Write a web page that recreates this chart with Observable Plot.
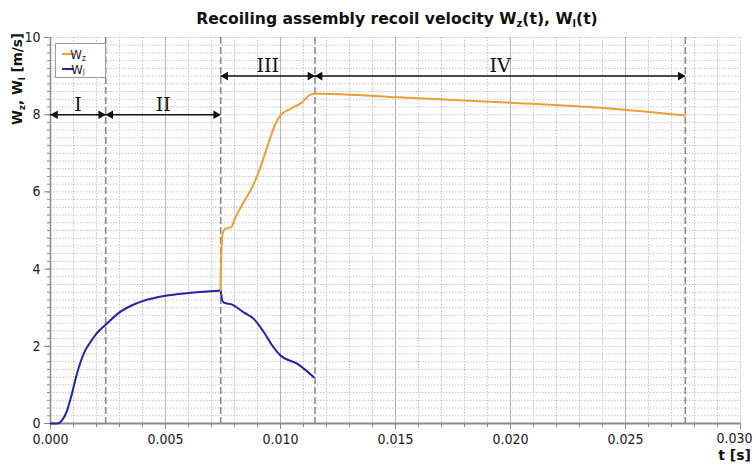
<!DOCTYPE html>
<html>
<head>
<meta charset="utf-8">
<script src="https://cdn.jsdelivr.net/npm/d3@7"></script>
<script src="https://cdn.jsdelivr.net/npm/@observablehq/plot@0.6"></script>
<style>
  html, body { margin: 0; padding: 0; background: white; }
  #chart { width: 756px; height: 465px; overflow: hidden; }
</style>
</head>
<body>
<div id="chart"></div>
<script>
// ---- data ----
const tL = [0, 0.0003, 0.0005, 0.0007, 0.0009, 0.0011, 0.0013, 0.0015, 0.0017, 0.002, 0.0024, 0.003, 0.0035, 0.004, 0.005, 0.006, 0.0068, 0.0073, 0.00739, 0.00746, 0.00754, 0.0079, 0.0084, 0.00884, 0.00927, 0.00964, 0.01, 0.01072, 0.01145];
const wL = [0, 0, 0.08, 0.3, 0.7, 1.18, 1.58, 1.88, 2.08, 2.33, 2.56, 2.88, 3.05, 3.17, 3.31, 3.38, 3.42, 3.44, 3.45, 3.2, 3.13, 3.08, 2.88, 2.71, 2.37, 2.02, 1.76, 1.55, 1.20];

const tZ = [0.00739, 0.00741, 0.00744, 0.0075, 0.0076, 0.00786, 0.00804, 0.0084, 0.00884, 0.00913, 0.00949, 0.00978, 0.01, 0.01043, 0.01094, 0.0113, 0.0115, 0.013, 0.01507, 0.02, 0.02493, 0.0276];
const wZ = [3.45, 4.0, 4.6, 4.96, 5.04, 5.09, 5.34, 5.73, 6.21, 6.64, 7.29, 7.76, 7.98, 8.15, 8.32, 8.52, 8.54, 8.52, 8.45, 8.31, 8.13, 7.98];

const phaseBounds = [0, 0.0024, 0.0074, 0.0115, 0.0276];
const phaseLabels = ["I", "II", "III", "IV"];
const phaseLevels = [8, 8, 9, 9];

const xMajor = [0, 0.005, 0.010, 0.015, 0.020, 0.025, 0.030];
const xTickLabels = ["0.000", "0.005", "0.010", "0.015", "0.020", "0.025", "0.030"];
const yMajor = [0, 2, 4, 6, 8, 10];
const yTickLabels = ["0", "2", "4", "6", "8", "10"];

const xMinor = d3.range(0, 31).map(i => i / 1000);
const yMinor = d3.range(0, 51).map(i => i / 5);

const colorZ = "#E8A03A";
const colorL = "#2222A8";
const font = "'DejaVu Sans Condensed', 'DejaVu Sans', sans-serif";
const fontWide = "'DejaVu Sans', sans-serif";

// ---- derived tables ----
const seriesZ = tZ.map((t, i) => ({t, w: wZ[i]}));
const seriesL = tL.map((t, i) => ({t, w: wL[i]}));
const phases = phaseLabels.map((label, i) => ({
  label, x1: phaseBounds[i], x2: phaseBounds[i + 1], y: phaseLevels[i],
  mid: (phaseBounds[i] + phaseBounds[i + 1]) / 2
}));
const dashedT = phaseBounds.slice(1);
const xLab = xMajor.map((v, i) => ({v, s: xTickLabels[i]}));
const yLab = yMajor.map((v, i) => ({v, s: yTickLabels[i]}));
const lastX = xLab[xLab.length - 1];

const plot = Plot.plot({
  width: 756,
  height: 465,
  marginLeft: 50,
  marginRight: 16,
  marginTop: 37,
  marginBottom: 42,
  style: {fontFamily: font, fontSize: "14px", color: "#1a1a1a", background: "white"},
  x: {type: "linear", domain: [0, 0.03]},
  y: {type: "linear", domain: [0, 10]},
  marks: [
    // grid
    Plot.ruleY(yMinor.filter(v => v > 0), {stroke: "#c4c4c4", strokeDasharray: "1.5,1.5", strokeWidth: 1}),
    Plot.ruleX(xMinor.filter(v => v > 0), {stroke: "#c4c4c4", strokeDasharray: "1.5,1.5", strokeWidth: 1}),
    Plot.ruleX(xMajor.filter(v => v > 0 && v < 0.03), {stroke: "#b4b4b4", strokeWidth: 1}),
    // phase boundaries
    Plot.ruleX(dashedT, {stroke: "#8c8c8c", strokeWidth: 1.6, strokeDasharray: "7,3"}),
    // axes
    Plot.axisX(xMinor, {tickSize: 4, tickFormat: () => "", stroke: "#888", label: null}),
    Plot.axisX(xMajor, {tickSize: 6, tickPadding: 5, stroke: "#888", label: null,
      tickFormat: v => (v === lastX.v ? "" : xLab.find(d => d.v === v).s), fontSize: 14}),
    Plot.text([lastX], {x: "v", text: "s", frameAnchor: "bottom", lineAnchor: "top", dy: 10, dx: -6, fontSize: 14}),
    Plot.axisY(yMinor, {tickSize: 3, tickFormat: () => "", stroke: "#888", label: null}),
    Plot.axisY(yMajor, {tickSize: 6, tickPadding: 4, stroke: "#888", label: null,
      tickFormat: v => yLab.find(d => d.v === v).s, fontSize: 14}),
    Plot.ruleY([0], {stroke: "#8a8a8a", strokeWidth: 2}),
    Plot.ruleX([0], {stroke: "#8a8a8a", strokeWidth: 1.5}),
    // curves
    Plot.line(seriesL, {x: "t", y: "w", stroke: colorL, strokeWidth: 2, curve: "monotone-x"}),
    Plot.line(seriesZ, {x: "t", y: "w", stroke: colorZ, strokeWidth: 2, curve: "monotone-x"}),
    // phase arrows
    Plot.ruleY(phases, {x1: "x1", x2: "x2", y: "y", stroke: "#111", strokeWidth: 1.5}),
    Plot.dot(phases, {x: "x2", y: "y", symbol: "triangle", r: 3.2, rotate: 90, dx: -4.8, fill: "#111", stroke: null}),
    Plot.dot(phases, {x: "x1", y: "y", symbol: "triangle", r: 3.2, rotate: -90, dx: 4.8, fill: "#111", stroke: null}),
    Plot.text(phases, {x: "mid", y: "y", text: "label", lineAnchor: "bottom", dy: -4,
      fontFamily: "'DejaVu Serif', serif", fontSize: 19, fill: "#111"})
  ]
});

document.getElementById("chart").appendChild(plot);

// ---- title, axis labels and legend (text with subscripts) ----
const svg = d3.select(plot);
const title = svg.append("text")
  .attr("x", 397).attr("y", 24)
  .attr("text-anchor", "middle")
  .style("font-family", fontWide).style("font-weight", "bold").style("font-size", "15.6px")
  .attr("fill", "#111");
title.append("tspan").text("Recoiling assembly recoil velocity W");
title.append("tspan").attr("font-size", "10px").attr("dy", 3).text("z");
title.append("tspan").attr("dy", -3).text("(t), W");
title.append("tspan").attr("font-size", "10px").attr("dy", 3).text("l");
title.append("tspan").attr("dy", -3).text("(t)");

const ylab = svg.append("text")
  .attr("transform", "translate(22,33) rotate(-90)")
  .attr("text-anchor", "end")
  .style("font-family", fontWide).style("font-weight", "bold").style("font-size", "13.5px")
  .attr("fill", "#111");
ylab.append("tspan").text("W");
ylab.append("tspan").attr("font-size", "9px").attr("dy", 3).text("z");
ylab.append("tspan").attr("dy", -3).text(", W");
ylab.append("tspan").attr("font-size", "9px").attr("dy", 3).text("l");
ylab.append("tspan").attr("dy", -3).text(" [m/s]");

svg.append("text")
  .attr("x", 751).attr("y", 460)
  .attr("text-anchor", "end")
  .style("font-family", fontWide).style("font-weight", "bold").style("font-size", "14px")
  .attr("fill", "#111")
  .text("t [s]");

// legend
const lg = svg.append("g");
lg.append("rect").attr("x", 55.5).attr("y", 43.5).attr("width", 50).attr("height", 34)
  .attr("fill", "white").attr("stroke", "#9a9a9a");
[[colorZ, "z", 54], [colorL, "l", 69]].forEach(([c, sub, y]) => {
  lg.append("line").attr("x1", 62).attr("x2", 74).attr("y1", y).attr("y2", y)
    .attr("stroke", c).attr("stroke-width", 2);
  const t = lg.append("text").attr("x", 78).attr("y", y + 4.5)
    .style("font-family", font).style("font-size", "13px").attr("fill", "#222");
  t.append("tspan").text("W");
  t.append("tspan").attr("font-size", "8px").attr("dy", 2).text(sub);
});
</script>
</body>
</html>
